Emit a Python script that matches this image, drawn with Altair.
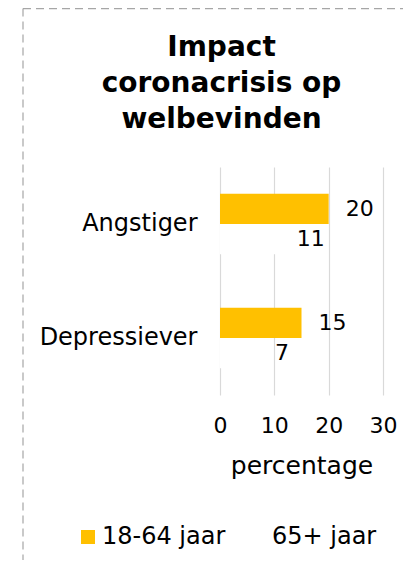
import altair as alt
import pandas as pd

categories = ["Angstiger", "Depressiever"]
series = ["18-64 jaar", "65+ jaar"]
values_18_64 = [20, 15]
values_65plus = [11, 7]
x_ticks = [0, 10, 20, 30]
title_lines = ["Impact", "coronacrisis op", "welbevinden"]
colors = ["#FFC000", "#FFFFFF"]

rows = []
for c, a, b in zip(categories, values_18_64, values_65plus):
    rows.append({"cat": c, "series": series[0], "value": a})
    rows.append({"cat": c, "series": series[1], "value": b})
df = pd.DataFrame(rows)

FONT = "DejaVu Sans"

y_enc = alt.Y(
    "cat:N",
    sort=categories,
    title=None,
    scale=alt.Scale(paddingInner=0.47, paddingOuter=0.235),
    axis=alt.Axis(
        domain=False, ticks=False, tickSize=0, labelPadding=23,
        labelFontSize=24, labelFont=FONT, labelColor="#000000",
    ),
)
yoff_enc = alt.YOffset("series:N", sort=series, scale=alt.Scale(paddingInner=0, paddingOuter=0))
x_enc = alt.X(
    "value:Q",
    title="percentage",
    scale=alt.Scale(domain=[0, 30], nice=False),
    axis=alt.Axis(
        values=x_ticks, domain=False, ticks=False, tickSize=0, labelPadding=20,
        labelFlush=False,
        labelFontSize=22, labelFont=FONT, labelColor="#000000",
        titleFontSize=25, titleFont=FONT, titleFontWeight="normal", titleColor="#000000",
        titlePadding=17, grid=True, gridColor="#D9D9D9", gridWidth=1.2,
    ),
)

base = alt.Chart(df).encode(y=y_enc, yOffset=yoff_enc)

bars = base.mark_bar(strokeWidth=0).encode(
    x=x_enc,
    color=alt.Color(
        "series:N",
        sort=series,
        scale=alt.Scale(domain=series, range=colors),
        legend=alt.Legend(
            title=None, orient="none", direction="horizontal",
            legendX=-144, legendY=358, symbolType="square", symbolSize=196,
            symbolStrokeWidth=0, labelFontSize=24, labelFont=FONT, labelColor="#000000",
            labelOffset=2, columnPadding=20, padding=0,
        ),
    ),
)

labels = base.mark_text(align="left", baseline="middle", dx=17, fontSize=22, font=FONT, color="#000000").encode(
    x=alt.X("value:Q"),
    text=alt.Text("value:Q"),
)

frame_df = pd.DataFrame({"k": [0]})
top_line = alt.Chart(frame_df).mark_rule(color="#A6A6A6", strokeDash=[8, 5], strokeWidth=1.2).encode(
    x=alt.value(-197), x2=alt.value(200), y=alt.value(-158.4), y2=alt.value(-158.4)
)
left_line = alt.Chart(frame_df).mark_rule(color="#A6A6A6", strokeDash=[8, 5], strokeWidth=1.2).encode(
    x=alt.value(-197), x2=alt.value(-197), y=alt.value(-158.4), y2=alt.value(420)
)

chart = alt.layer(top_line, left_line, bars, labels).properties(
    width=163,
    height=228,
    padding={"left": 212, "top": 159, "right": 20, "bottom": 165},
    autosize=alt.AutoSizeParams(type="none"),
    title=alt.TitleParams(
        text=title_lines, fontSize=28, fontWeight="bold", font=FONT, color="#000000",
        lineHeight=36, anchor="middle", dx=-80, offset=-126.4,
    ),
).configure_view(stroke=None)

chart.save("out.html", embed_options={"renderer": "svg", "actions": False})
